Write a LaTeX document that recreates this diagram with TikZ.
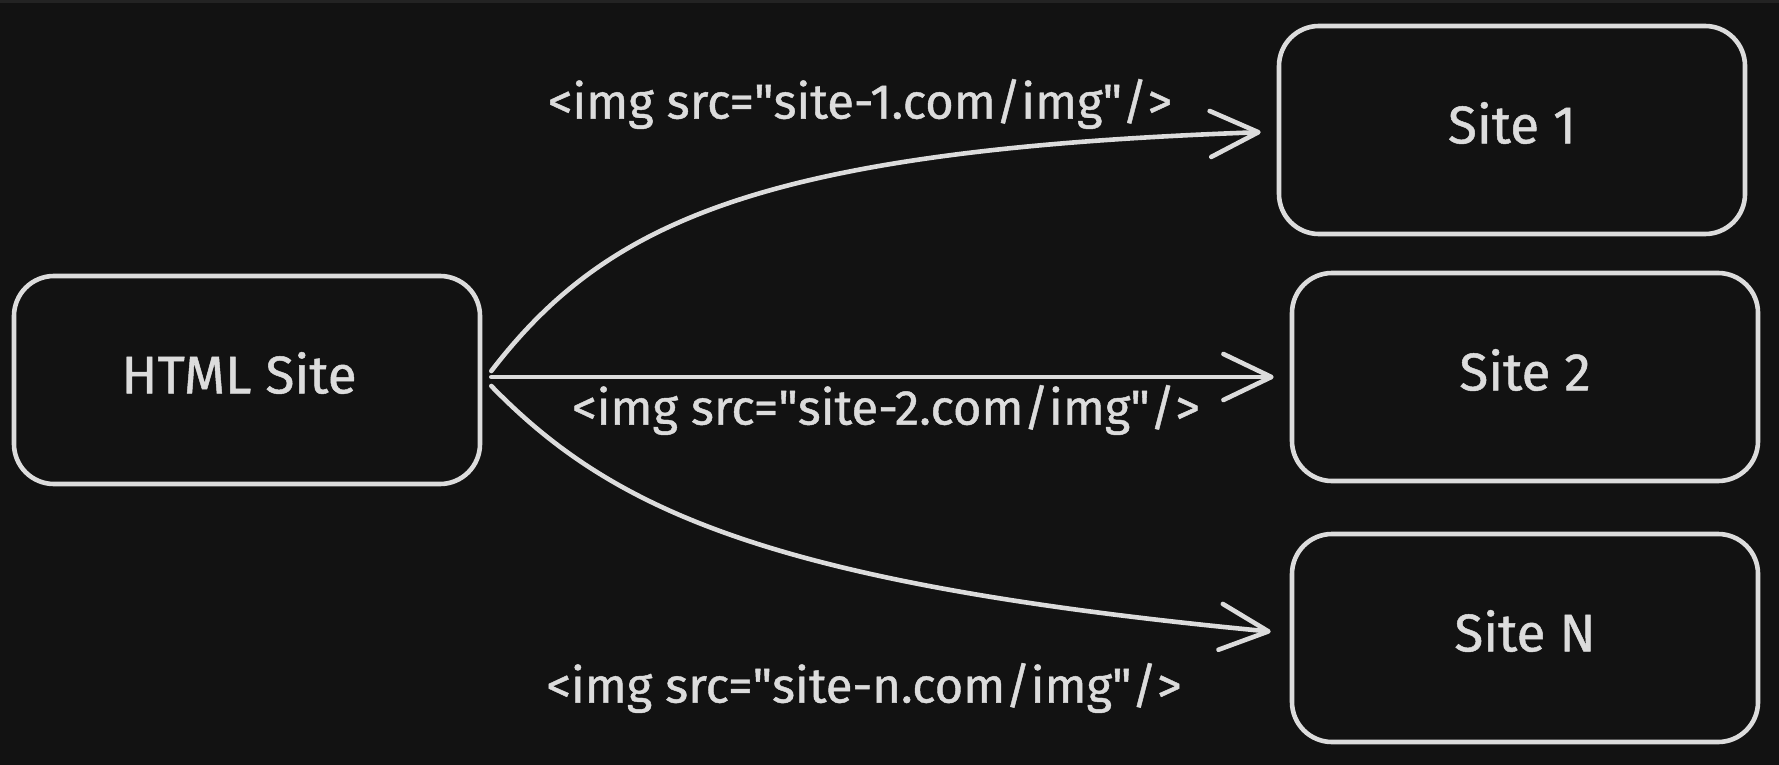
\documentclass[tikz,border=0pt]{standalone}
\usepackage{fontspec}
\setmainfont{Fira Sans}[UprightFeatures={FakeBold=0.9}]
\usetikzlibrary{arrows.meta,calc}
\definecolor{bg}{HTML}{121212}
\definecolor{strip}{HTML}{232323}
\definecolor{ink}{HTML}{DCDCDC}
\newcommand{\qt}{\textquotedbl}
\newcommand{\lift}[1]{\raisebox{7pt}[\height][\depth]{#1}}
\begin{document}
\begin{tikzpicture}[x=1pt,y=-1pt,
  box/.style={draw=ink, line width=4.6pt, rounded corners=40pt,
    minimum width=466pt, minimum height=208pt, inner sep=0pt,
    text=ink, font=\fontsize{53}{62}\selectfont},
  link/.style={draw=ink, line width=4.6pt, line cap=round, shorten >=4pt,
    -{Straight Barb[length=48pt,width=46pt,line width=4.6pt,round]}},
  tag/.style={text=ink, inner sep=0pt, font=\fontsize{49}{56}\selectfont}]
% canvas
\fill[bg] (0,0) rectangle (1779,765);
\fill[strip] (0,0) rectangle (1779,3);
\useasboundingbox (0,0) rectangle (1779,765);

% boxes
\node[box] (html)  at (247,380)  {\lift{HTML Site}\hspace*{16pt}};
\node[box] (site1) at (1512,130) {\lift{Site 1}};
\node[box] (site2) at (1525,377) {\lift{Site 2}};
\node[box] (siten) at (1525,638) {\lift{Site N}};

% connectors
\draw[link] ($(html.east)+(9,-9)$) .. controls (606,222) and (760,150) .. ($(site1.west)+(-12,2)$);
\draw[link] ($(html.east)+(9,-3)$) -- ($(site2.west)+(-12,0)$);
\draw[link] ($(html.east)+(9,6)$) .. controls (613,511) and (772,584) .. ($(siten.west)+(-15,-6)$);

% labels
\node[tag] (t1) at (860,104) {<img src=\qt site-1.com/img\qt/>};
\node[tag] (t2) at (886,410) {<img src=\qt site-2.com/img\qt/>};
\node[tag] (t3) at (864,688) {<img src=\qt site-n.com/img\qt/>};
\end{tikzpicture}
\end{document}
